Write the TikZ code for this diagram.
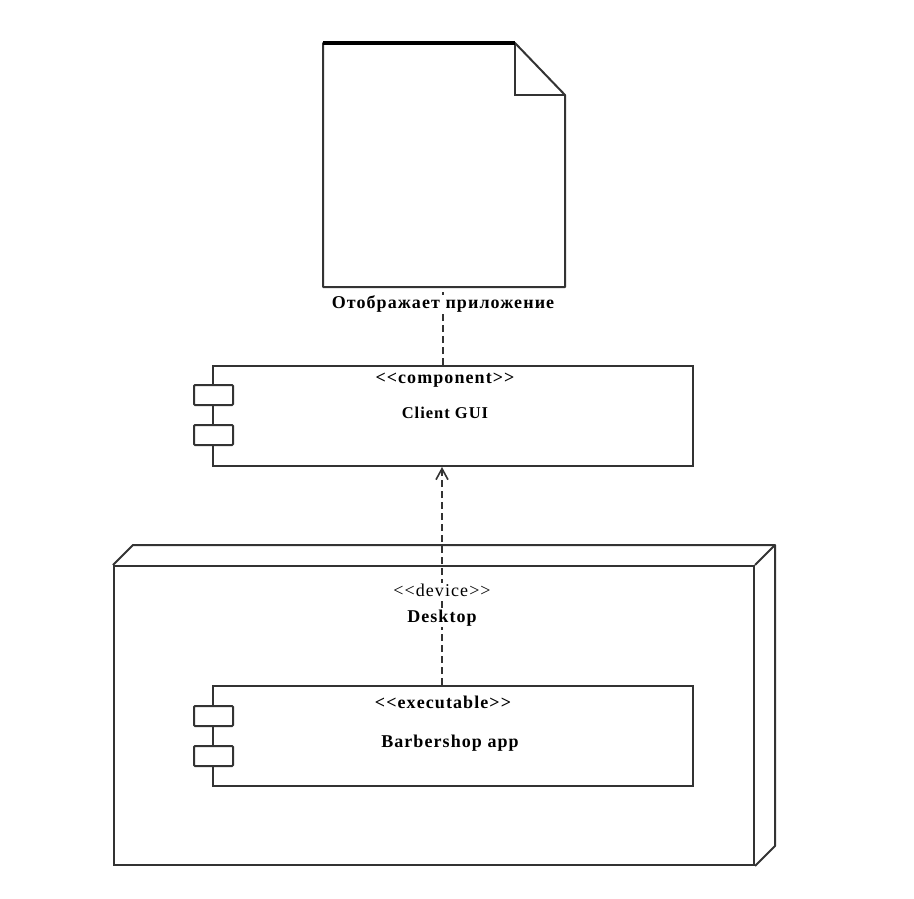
\documentclass[tikz,border=0pt]{standalone}
\usepackage{fontspec}
\setmainfont{Liberation Serif}[LetterSpace=6,Ligatures=NoCommon]
\usetikzlibrary{arrows.meta,backgrounds,calc}
\definecolor{ink}{HTML}{333333}
\begin{document}
\begin{tikzpicture}[x=1pt,y=-1pt,
  line width=2pt, draw=ink,
  box/.style={draw=ink, line width=2pt, minimum width=480pt, minimum height=100pt, inner sep=0pt},
  port/.style={draw=ink, line width=2pt, minimum width=39pt, minimum height=20pt, inner sep=0pt, fill=white, rounded corners=1pt},
  lbl/.style={font=\bfseries\fontsize{18}{20}\selectfont, text=black, inner sep=1pt},
  stlbl/.style={font=\fontsize{18}{20}\selectfont, text=black, inner sep=1pt},
  dep/.style={draw=ink, line width=1.6pt, dash pattern=on 7pt off 4pt}
]
\useasboundingbox (0,0) rectangle (914,899);

% document
\node[minimum width=240pt, minimum height=242pt, inner sep=0pt] (doc) at (444,165) {};
\draw[ink, line width=2pt, line join=round]
  (doc.north west) -- ($(doc.north east)+(-50,0)$) -- ($(doc.north east)+(0,52)$) -- (doc.south east) -- (doc.south west) -- cycle;
\draw[ink, line width=2pt] ($(doc.north east)+(-50,0)$) -- ($(doc.north east)+(-50,52)$) -- ($(doc.north east)+(0,52)$);
\draw[black, line width=3.5pt] (doc.north west) -- ($(doc.north east)+(-50,0)$);
\node[lbl, fill=white] (doclbl) at (443,304) {Отображает приложение};

% Client GUI component
\node[box] (gui) at (453,416) {};
\node[port] (guip1) at (213.5,395) {};
\node[port] (guip2) at (213.5,435) {};
\node[lbl, fill=white] (guist) at (445,380) {<{}<component>{}>};
\node[lbl, font=\bfseries\fontsize{16.5}{18}\selectfont] (guiname) at (445,413) {Client GUI};

% Desktop node
\node[draw=ink, line width=2pt, minimum width=640pt, minimum height=299pt, inner sep=0pt] (desk) at (434,715.5) {};
\draw[ink, line width=2pt, line join=round]
  (desk.north west) -- ++(20,-20) -- ($(desk.north east)+(20,-20)$) -- ($(desk.south east)+(20,-20)$) -- (desk.south east);
\draw[ink, line width=2pt] (desk.north east) -- ++(20,-20);
\node[stlbl, fill=white] (deskst) at (442,590) {<{}<device>{}>};
\node[lbl, fill=white] (deskname) at (442,618) {Desktop};

% Barbershop app
\node[box] (app) at (453,736) {};
\node[port] (appp1) at (213.5,716) {};
\node[port] (appp2) at (213.5,756) {};
\node[lbl] (appst) at (443,702) {<{}<executable>{}>};
\node[lbl] (appname) at (450,743) {Barbershop app};

% connectors
\begin{pgfonlayer}{background}
\draw[dep] (gui.north -| doclbl.center) -- (doc.south -| doclbl.center);
\draw[dep, -{Straight Barb[length=11pt,width=12pt,line width=1.6pt]}]
  (app.north -| deskname.center) -- (gui.south -| deskname.center);
\end{pgfonlayer}
\end{tikzpicture}
\end{document}
